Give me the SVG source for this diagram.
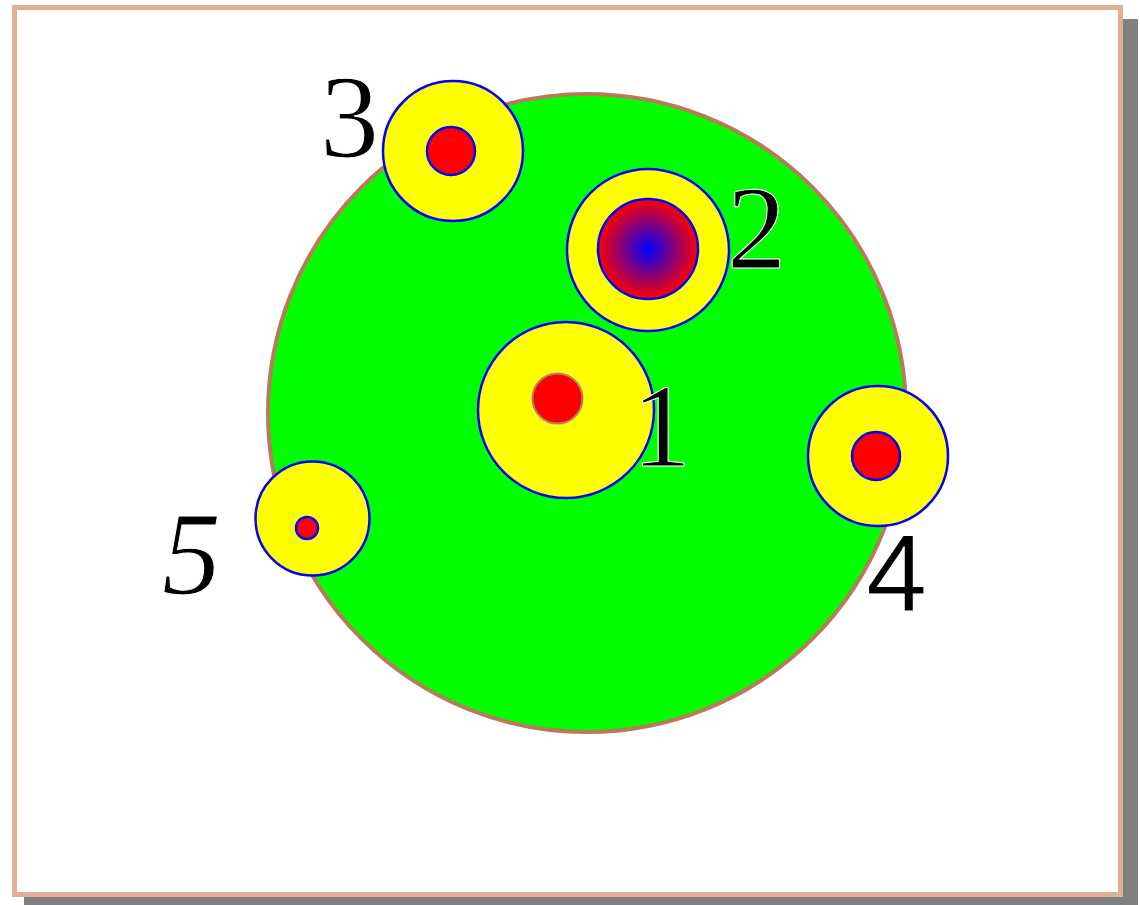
<svg xmlns="http://www.w3.org/2000/svg" width="1140" height="905" viewBox="0 0 1140 905">
<defs>
<radialGradient id="g2" cx="0.5" cy="0.5" r="0.5">
<stop offset="0" stop-color="#0000ff"/>
<stop offset="1" stop-color="#ff0000"/>
</radialGradient>
</defs>
<style>
.outer{fill:#ffff00;stroke:#0000ff;stroke-width:2.5}
.inner{fill:#ff0000;stroke:#0000ff;stroke-width:2.5}
.lbl{font-family:"Liberation Serif","Times New Roman",serif;font-size:118px;fill:#000;stroke:#fff;stroke-width:1}
</style>
<rect x="24" y="19" width="1114" height="890" fill="#808080"/>
<rect x="14.5" y="7.5" width="1106" height="887" fill="#ffffff" stroke="#e0b090" stroke-width="5"/>
<g id="base">
<circle cx="587" cy="413" r="319" fill="#00ff00" stroke="#b87a5a" stroke-width="4"/>
</g>
<g id="connectors"></g>
<g id="node3">
<circle class="outer" cx="453" cy="151" r="70"/>
<circle class="inner" cx="451" cy="151" r="24"/>
<text class="lbl" x="320" y="157">3</text>
</g>
<g id="node2">
<circle class="outer" cx="648" cy="250" r="81"/>
<circle cx="648" cy="249" r="50" fill="url(#g2)" stroke="#0000ff" stroke-width="2.5"/>
<text class="lbl" x="727" y="268">2</text>
</g>
<g id="node1">
<circle class="outer" cx="566" cy="410" r="88"/>
<circle cx="557.5" cy="398.5" r="25" fill="#ff0000" stroke="#b08070" stroke-width="2"/>
<text class="lbl" x="632" y="466">1</text>
</g>
<g id="node4">
<circle class="outer" cx="878" cy="456" r="70"/>
<circle class="inner" cx="876" cy="456" r="24"/>
<text class="lbl" x="866" y="611" style="font-family:'Liberation Sans',Arial,sans-serif;font-size:110px">4</text>
</g>
<g id="node5">
<circle class="outer" cx="312.5" cy="518.5" r="57"/>
<circle class="inner" cx="307" cy="528" r="11"/>
<text class="lbl" x="162" y="594" font-style="italic">5</text>
</g>
</svg>
